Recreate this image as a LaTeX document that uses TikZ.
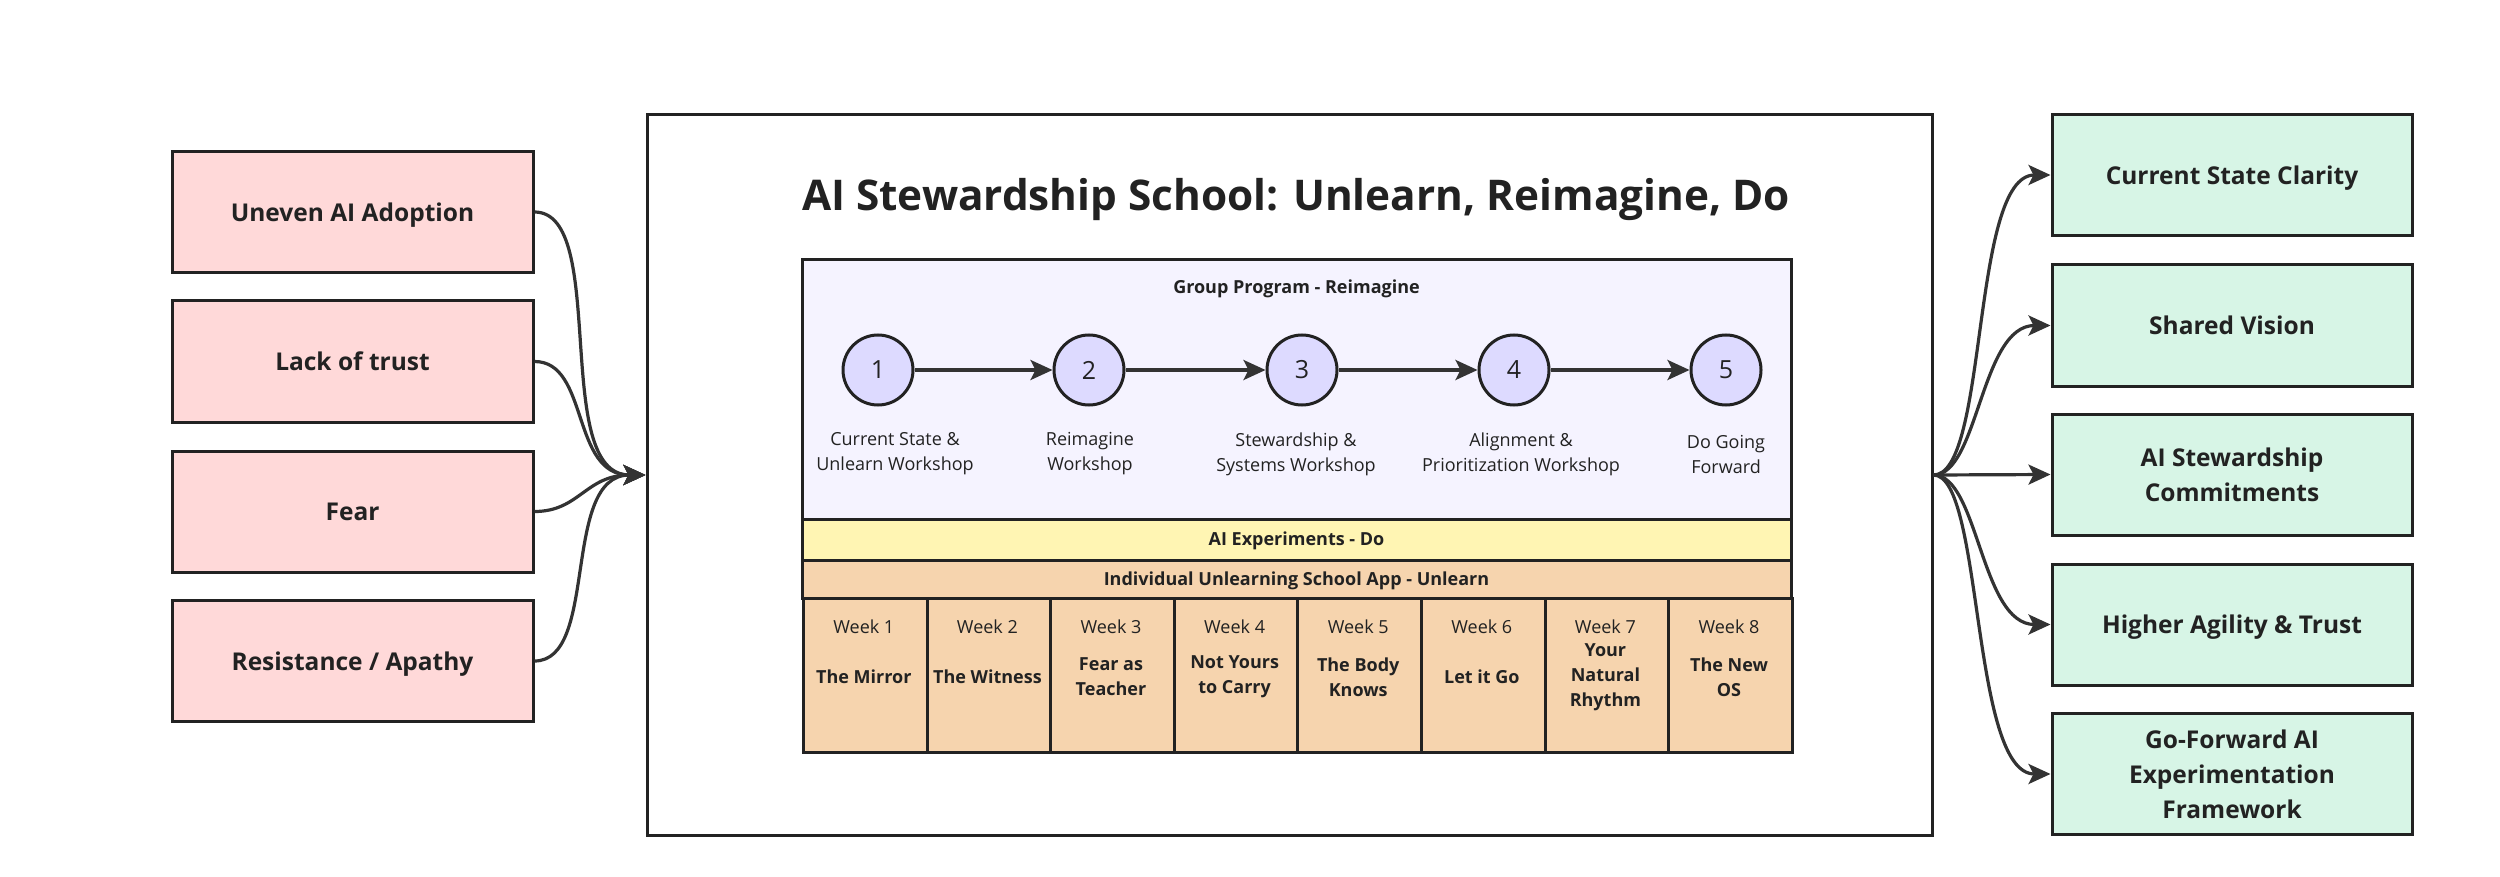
\documentclass[tikz,border=0pt]{standalone}
\usepackage{fontspec}
\setmainfont{Open Sans}
\usetikzlibrary{arrows.meta}
\definecolor{pinkbox}{HTML}{FFD9D9}
\definecolor{mintbox}{HTML}{D7F5E6}
\definecolor{lavbox}{HTML}{F5F3FF}
\definecolor{circbox}{HTML}{DDDAFF}
\definecolor{yelbox}{HTML}{FFF5B3}
\definecolor{orbox}{HTML}{F6D4AE}
\definecolor{ink}{HTML}{222222}
\definecolor{wire}{HTML}{333333}
\tikzset{
  sidebox/.style={draw=ink, line width=3pt, minimum width=361pt, minimum height=121pt, inner sep=4pt, align=center, text=ink, text depth=0pt, font=\fontsize{24.5}{35}\selectfont\bfseries},
  leftbox/.style={sidebox, fill=pinkbox},
  rightbox/.style={sidebox, fill=mintbox, minimum width=360pt},
  band/.style={draw=ink, line width=3pt, minimum width=989pt, inner sep=0pt, anchor=north},
  numcirc/.style={circle, draw=ink, line width=3pt, fill=circbox, minimum size=70pt, inner sep=0pt, text=ink, font=\fontsize{25}{28}\selectfont},
  steplabel/.style={align=center, inner sep=0pt, text=ink, font=\fontsize{18}{25}\selectfont},
  weekcell/.style={draw=ink, line width=3pt, fill=orbox, minimum width=123.6pt, minimum height=154pt, inner sep=0pt, anchor=north west},
  weeklabel/.style={inner sep=0pt, text=ink, font=\fontsize{18}{25}\selectfont},
  weektitle/.style={align=center, inner sep=0pt, text=ink, font=\fontsize{18}{25}\selectfont\bfseries},
  bandtext/.style={inner sep=0pt, text=ink, font=\fontsize{18}{22}\selectfont\bfseries},
  arr/.style={draw=wire, line width=3.2pt, -{Stealth[length=22pt,width=20pt,inset=5pt]}}
}
\begin{document}
\begin{tikzpicture}[x=1pt,y=-1pt]
\useasboundingbox[fill=white] (0,0) rectangle (2500,877);

% big container
\node[draw=ink, line width=3pt, fill=white, minimum width=1285pt, minimum height=720pt, inner sep=0pt] (big) at (1289.5,475) {};
\node[text=ink, font=\fontsize{42.3}{48}\selectfont\bfseries, inner sep=0pt] (title) at (1296,200) {AI Stewardship School: Unlearn, Reimagine, Do};

% bands
\node[band, fill=lavbox, minimum height=260pt] (lav) at (1296.5,258) {};
\node[bandtext] (lavt) at (1296.5,289) {Group Program - Reimagine};
\node[band, fill=yelbox, minimum height=41pt] (yel) at (1296.5,518) {};
\node[bandtext] (yelt) at ([yshift=-1pt]yel.center) {AI Experiments - Do};
\node[band, fill=orbox, minimum height=38pt] (ora) at (1296.5,559) {};
\node[bandtext] (orat) at ([yshift=-1pt]ora.center) {Individual Unlearning School App - Unlearn};

% circles
\node[numcirc] (c1) at (878,370) {1};
\node[numcirc] (c2) at (1089,370) {2};
\node[numcirc] (c3) at (1302,370) {3};
\node[numcirc] (c4) at (1514,370) {4};
\node[numcirc] (c5) at (1726,370) {5};
\draw[arr] (c1) -- (c2);
\draw[arr] (c2) -- (c3);
\draw[arr] (c3) -- (c4);
\draw[arr] (c4) -- (c5);
\node[steplabel] (s1) at (895,454) {Current State \&\\Unlearn Workshop};
\node[steplabel] (s2) at (1090,454) {Reimagine\\Workshop};
\node[steplabel] (s3) at (1296,454) {Stewardship \&\\Systems Workshop};
\node[steplabel] (s4) at (1521,454) {Alignment \&\\Prioritization Workshop};
\node[steplabel] (s5) at (1726,454) {Do Going\\Forward};

% weeks
\foreach \i/\t in {1/{The Mirror},2/{The Witness},3/{Fear as\\Teacher},4/{Not Yours\\to Carry},5/{The Body\\Knows},6/{Let it Go},7/{Your\\Natural\\Rhythm},8/{The New\\OS}}{
  \node[weekcell] (w\i) at ({802+123.6*(\i-1)},597) {};
  \node[weeklabel] (wl\i) at ({802+123.6*(\i-0.5)},627) {Week \i};
  \node[weektitle] (wt\i) at ({802+123.6*(\i-0.5)},677) {\t};
}

% left boxes
\node[leftbox] (l1) at (352.5,212) {Uneven AI Adoption};
\node[leftbox] (l2) at (352.5,361.5) {Lack of trust};
\node[leftbox] (l3) at (352.5,511.5) {Fear};
\node[leftbox] (l4) at (352.5,661) {Resistance / Apathy};

% right boxes
\node[rightbox] (r1) at (2232,175) {Current State Clarity};
\node[rightbox] (r2) at (2232,325.5) {Shared Vision};
\node[rightbox] (r3) at (2232,474.5) {AI Stewardship\\Commitments};
\node[rightbox] (r4) at (2232,624.5) {Higher Agility \& Trust};
\node[rightbox] (r5) at (2232,774) {Go-Forward AI\\Experimentation\\Framework};

% connectors left
\draw[arr] (l1.east) .. controls +(75,0) and +(-95,0) .. (big.west);
\draw[arr] (l2.east) .. controls +(55,0) and +(-75,0) .. (big.west);
\draw[arr] (l3.east) .. controls +(45,0) and +(-60,0) .. (big.west);
\draw[arr] (l4.east) .. controls +(65,0) and +(-85,0) .. (big.west);

% connectors right
\draw[arr] (big.east) .. controls +(55,0) and +(-80,0) .. (r1.west);
\draw[arr] (big.east) .. controls +(45,0) and +(-70,0) .. (r2.west);
\draw[arr] (big.east) -- (r3.west);
\draw[arr] (big.east) .. controls +(45,0) and +(-70,0) .. (r4.west);
\draw[arr] (big.east) .. controls +(50,0) and +(-80,0) .. (r5.west);
\end{tikzpicture}
\end{document}
